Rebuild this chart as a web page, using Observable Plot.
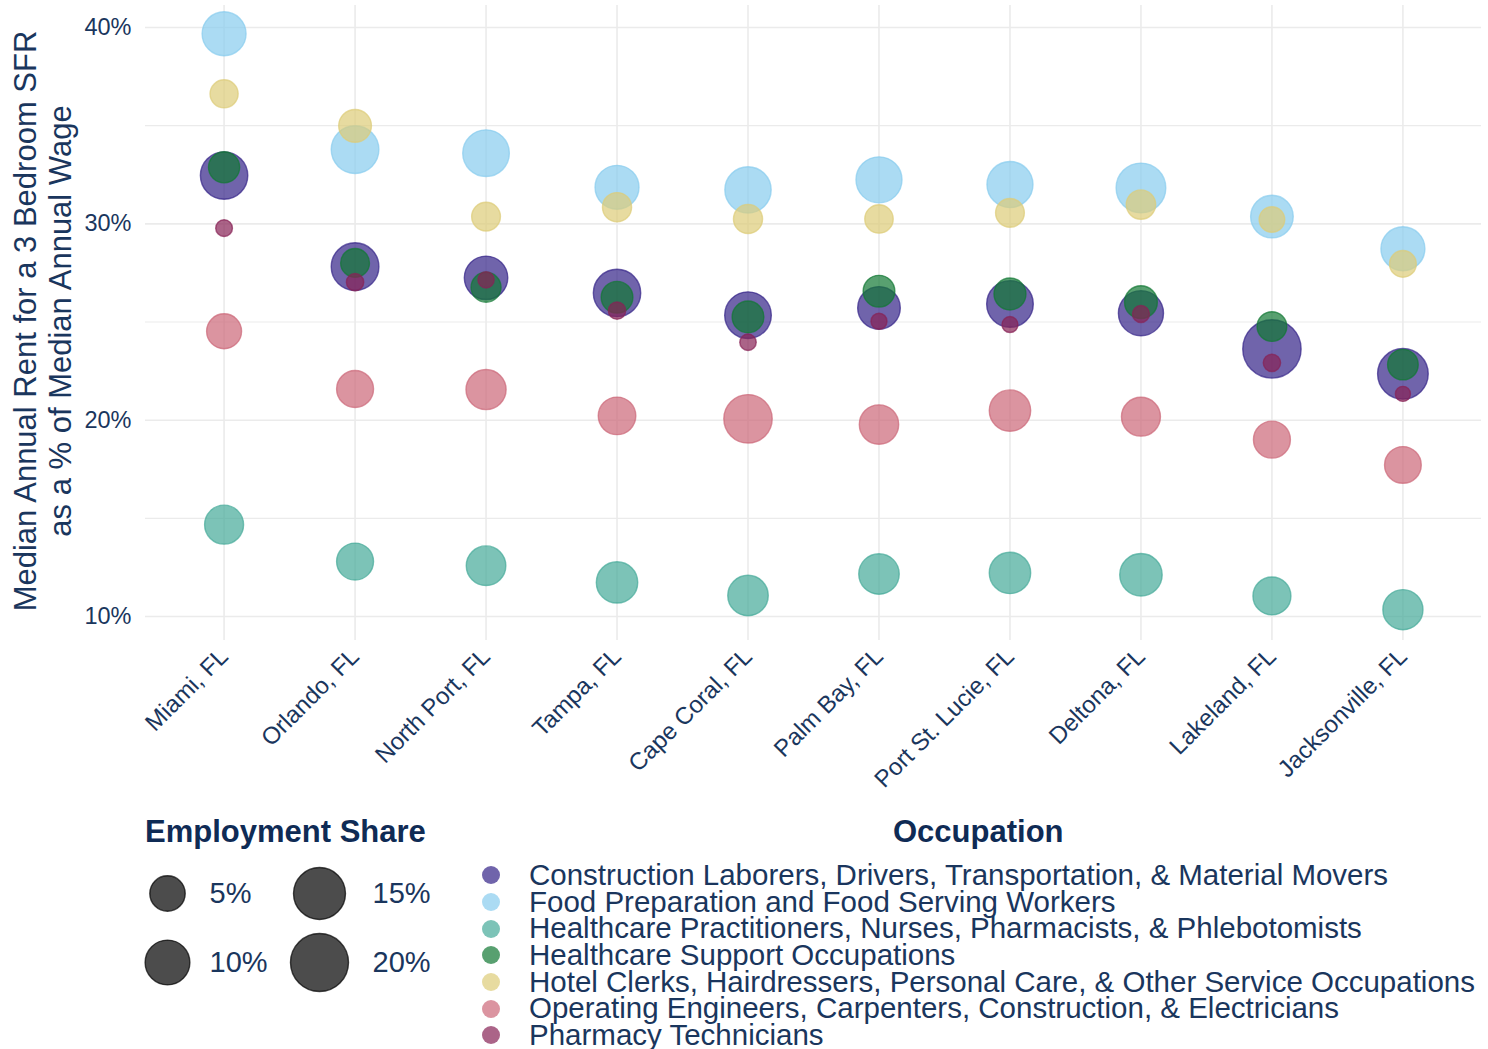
<!DOCTYPE html>
<html>
<head>
<meta charset="utf-8">
<script src="https://cdn.jsdelivr.net/npm/d3@7"></script>
<script src="https://cdn.jsdelivr.net/npm/@observablehq/plot@0.6"></script>
<style>
  html, body { margin: 0; padding: 0; background: #fff; }
  body { width: 1488px; height: 1049px; position: relative; overflow: hidden; font-family: "Liberation Sans", Arial, sans-serif; color: #1a365d; }
  #chart { position: absolute; left: 0; top: 0; }
  #sizeLegend { position: absolute; left: 120px; top: 855px; }
  .ltitle { position: absolute; font-weight: bold; font-size: 31px; line-height: 34px; color: #0f2b55; white-space: nowrap; }
  #occ { position: absolute; left: 480px; top: 862px; }
  .item { height: 26.7px; line-height: 26.7px; font-size: 29.5px; white-space: nowrap; display: flex; align-items: center; }
  .sw { width: 18px; height: 18px; border-radius: 50%; margin-left: 2px; margin-right: 29px; flex: none; }
</style>
</head>
<body>
<div id="chart"></div>
<div class="ltitle" style="left:145px; top:815px;">Employment Share</div>
<div id="sizeLegend"></div>
<div class="ltitle" style="left:893px; top:815px;">Occupation</div>
<div id="occ"></div>
<script>
// ---- Data ----
const cities = ["Miami, FL", "Orlando, FL", "North Port, FL", "Tampa, FL", "Cape Coral, FL",
  "Palm Bay, FL", "Port St. Lucie, FL", "Deltona, FL", "Lakeland, FL", "Jacksonville, FL"];

const occupations = [
  "Construction Laborers, Drivers, Transportation, & Material Movers",
  "Food Preparation and Food Serving Workers",
  "Healthcare Practitioners, Nurses, Pharmacists, & Phlebotomists",
  "Healthcare Support Occupations",
  "Hotel Clerks, Hairdressers, Personal Care, & Other Service Occupations",
  "Operating Engineers, Carpenters, Construction, & Electricians",
  "Pharmacy Technicians"
];

const colors = ["#332288", "#88CCEE", "#44AA99", "#117733", "#DDCC77", "#CC6677", "#882255"];

// rent as % of median annual wage, by city (same order as cities)
const constructionRent = [32.46, 27.82, 27.25, 26.48, 25.35, 25.72, 25.92, 25.45, 23.63, 22.36];
const foodRent         = [39.68, 33.78, 33.60, 31.86, 31.73, 32.24, 32.00, 31.83, 30.37, 28.73];
const hcPractRent      = [14.68, 12.80, 12.59, 11.74, 11.07, 12.17, 12.22, 12.13, 11.05, 10.35];
const hcSupportRent    = [32.88, 28.01, 26.77, 26.26, 25.26, 26.57, 26.43, 26.01, 24.77, 22.83];
const hotelRent        = [36.62, 34.99, 30.37, 30.85, 30.25, 30.25, 30.56, 30.98, 30.22, 27.96];
const operatingRent    = [24.53, 21.59, 21.56, 20.22, 20.07, 19.78, 20.49, 20.18, 19.01, 17.72];
const pharmacyRent     = [29.78, 27.03, 27.15, 25.58, 23.97, 25.04, 24.87, 25.41, 22.92, 21.34];

// employment share (%), by city
const constructionShare = [11.7, 11.9, 9.2, 11.7, 11.2, 8.7, 11.2, 10.2, 20.3, 14.0];
const foodShare         = [9.5, 11.9, 11.2, 9.5, 11.0, 10.8, 10.8, 13.3, 8.7, 9.5];
const hcPractShare      = [6.7, 5.7, 7.0, 8.0, 7.5, 7.5, 8.0, 8.6, 6.2, 7.3];
const hcSupportShare    = [3.3, 2.5, 2.9, 3.5, 3.5, 3.5, 3.6, 3.9, 2.8, 3.1];
const hotelShare        = [2.3, 3.9, 2.5, 2.6, 2.6, 2.4, 2.5, 2.7, 1.6, 1.9];
const operatingShare    = [4.8, 5.7, 7.3, 6.0, 12.4, 6.9, 8.0, 6.7, 5.7, 5.6];
const pharmacyShare     = [0.15, 0.2, 0.12, 0.2, 0.13, 0.1, 0.1, 0.17, 0.2, 0.05];

const sizeLegendValues = [5, 10, 15, 20];
const yTicks = [10, 20, 30, 40];
const yGrid = [10, 15, 20, 25, 30, 35, 40];

const rentSeries = [constructionRent, foodRent, hcPractRent, hcSupportRent, hotelRent, operatingRent, pharmacyRent];
const shareSeries = [constructionShare, foodShare, hcPractShare, hcSupportShare, hotelShare, operatingShare, pharmacyShare];

const data = [];
occupations.forEach((occ, i) => {
  cities.forEach((city, j) => {
    data.push({occupation: occ, city, rent: rentSeries[i][j], share: shareSeries[i][j]});
  });
});

const rScale = {type: "pow", exponent: 0.5, domain: [0, 20], range: [6.4, 29]};
const textColor = "#1a365d";

const chart = Plot.plot({
  width: 1488,
  height: 800,
  marginLeft: 145,
  marginRight: 7,
  marginTop: 5,
  marginBottom: 160,
  style: {fontFamily: "'Liberation Sans', Arial, sans-serif", fontSize: "22px", color: textColor, background: "transparent"},
  x: {type: "point", domain: cities, padding: 0.6, round: false, label: null},
  y: {domain: [8.78, 41.12], label: null},
  r: rScale,
  color: {domain: occupations, range: colors},
  marks: [
    Plot.ruleY(yGrid, {stroke: "#ebebeb", strokeWidth: d => d % 10 === 0 ? 1.6 : 1.2}),
    Plot.ruleX(cities, {x: d => d, stroke: "#ebebeb", strokeWidth: 1.6}),
    Plot.axisY({ticks: yTicks, tickFormat: d => d + "%", tickSize: 0, tickPadding: 14, label: null, fontSize: 23.5}),
    Plot.axisX({tickRotate: -45, tickSize: 0, tickPadding: 12, label: null, fontSize: 24}),
    Plot.dot(data, {
      x: "city", y: "rent", r: "share", fill: "occupation", stroke: "occupation",
      fillOpacity: 0.7, strokeOpacity: 0.7, strokeWidth: 1.4, sort: null
    }),
    Plot.text(["Median Annual Rent for a 3 Bedroom SFR\nas a % of Median Annual Wage"], {
      frameAnchor: "left", dx: -103, dy: -2, rotate: -90, fontSize: 31, lineHeight: 1.13,
      textAnchor: "middle", lineAnchor: "middle", fill: textColor
    })
  ]
});
document.getElementById("chart").appendChild(chart);

// size legend
const sizeRows = sizeLegendValues.map((v, i) => ({v, col: i < 2 ? 0 : 1, row: i % 2}));
const sizeLegend = Plot.plot({
  width: 330, height: 145, margin: 0,
  style: {fontFamily: "'Liberation Sans', Arial, sans-serif", fontSize: "29px", color: textColor, background: "transparent"},
  x: {type: "linear", domain: [0, 1], range: [47, 199], axis: null},
  y: {type: "linear", domain: [0, 1], range: [38, 107], axis: null},
  r: rScale,
  marks: [
    Plot.dot(sizeRows, {x: "col", y: "row", r: "v", fill: "black", fillOpacity: 0.7, stroke: "black", strokeOpacity: 0.7, strokeWidth: 1.4}),
    Plot.text(sizeRows.filter(d => d.col === 0), {x: "col", y: "row", text: d => d.v + "%", dx: 42, textAnchor: "start", fill: textColor, fontSize: 29}),
    Plot.text(sizeRows.filter(d => d.col === 1), {x: "col", y: "row", text: d => d.v + "%", dx: 53, textAnchor: "start", fill: textColor, fontSize: 29})
  ]
});
document.getElementById("sizeLegend").appendChild(sizeLegend);

// occupation legend
const occ = document.getElementById("occ");
occupations.forEach((o, i) => {
  const div = document.createElement("div");
  div.className = "item";
  const sw = document.createElement("span");
  sw.className = "sw";
  sw.style.background = colors[i];
  sw.style.opacity = 0.7;
  div.appendChild(sw);
  const t = document.createElement("span");
  t.textContent = o;
  div.appendChild(t);
  occ.appendChild(div);
});
</script>
</body>
</html>
